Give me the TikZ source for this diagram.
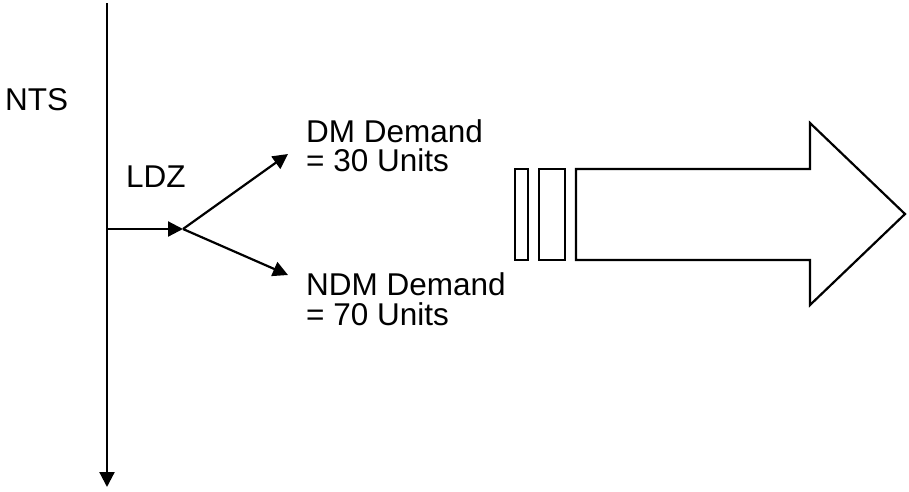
\documentclass[tikz,border=0pt]{standalone}
\usepackage{fontspec}
\setmainfont{Liberation Sans}
\usetikzlibrary{arrows.meta}
\begin{document}
\begin{tikzpicture}[x=1pt,y=-1pt,
  flow/.style={line width=2.2pt,-{Triangle[length=15pt,width=15pt]}},
  outline/.style={line width=2.2pt,line join=miter},
  lbl/.style={inner sep=0pt,anchor=base west,align=left,
    font=\fontsize{31.5}{29.5}\selectfont}]
\useasboundingbox (0,0) rectangle (909,491);

% main pipeline and branch points
\coordinate (top) at (107,3);
\coordinate (bottom) at (107,487);
\coordinate (tap) at (107,229);
\coordinate (split) at (183,229);
\coordinate (dmEnd) at (288,154);
\coordinate (ndmEnd) at (288,275);

\draw[flow] (top) -- (bottom);
\draw[flow] (tap) -- (split);
\draw[flow] (split) -- (dmEnd);
\draw[flow] (split) -- (ndmEnd);

% labels (base anchor sits on the last line of each label)
\node[lbl] (nts) at (5,110) {NTS};
\node[lbl] (ldz) at (126,187) {LDZ};
\node[lbl] (dm) at (306,171.5) {DM Demand\\= 30 Units};
\node[lbl] (ndm) at (306,325) {NDM Demand\\= 70 Units};

% broken block arrow
\draw[outline] (515,169) rectangle (528,260);
\draw[outline] (539,169) rectangle (565,260);
\draw[outline] (576,169) -- (810,169) -- (810,123) -- (905,214)
  -- (810,305) -- (810,260) -- (576,260) -- cycle;
\end{tikzpicture}
\end{document}
